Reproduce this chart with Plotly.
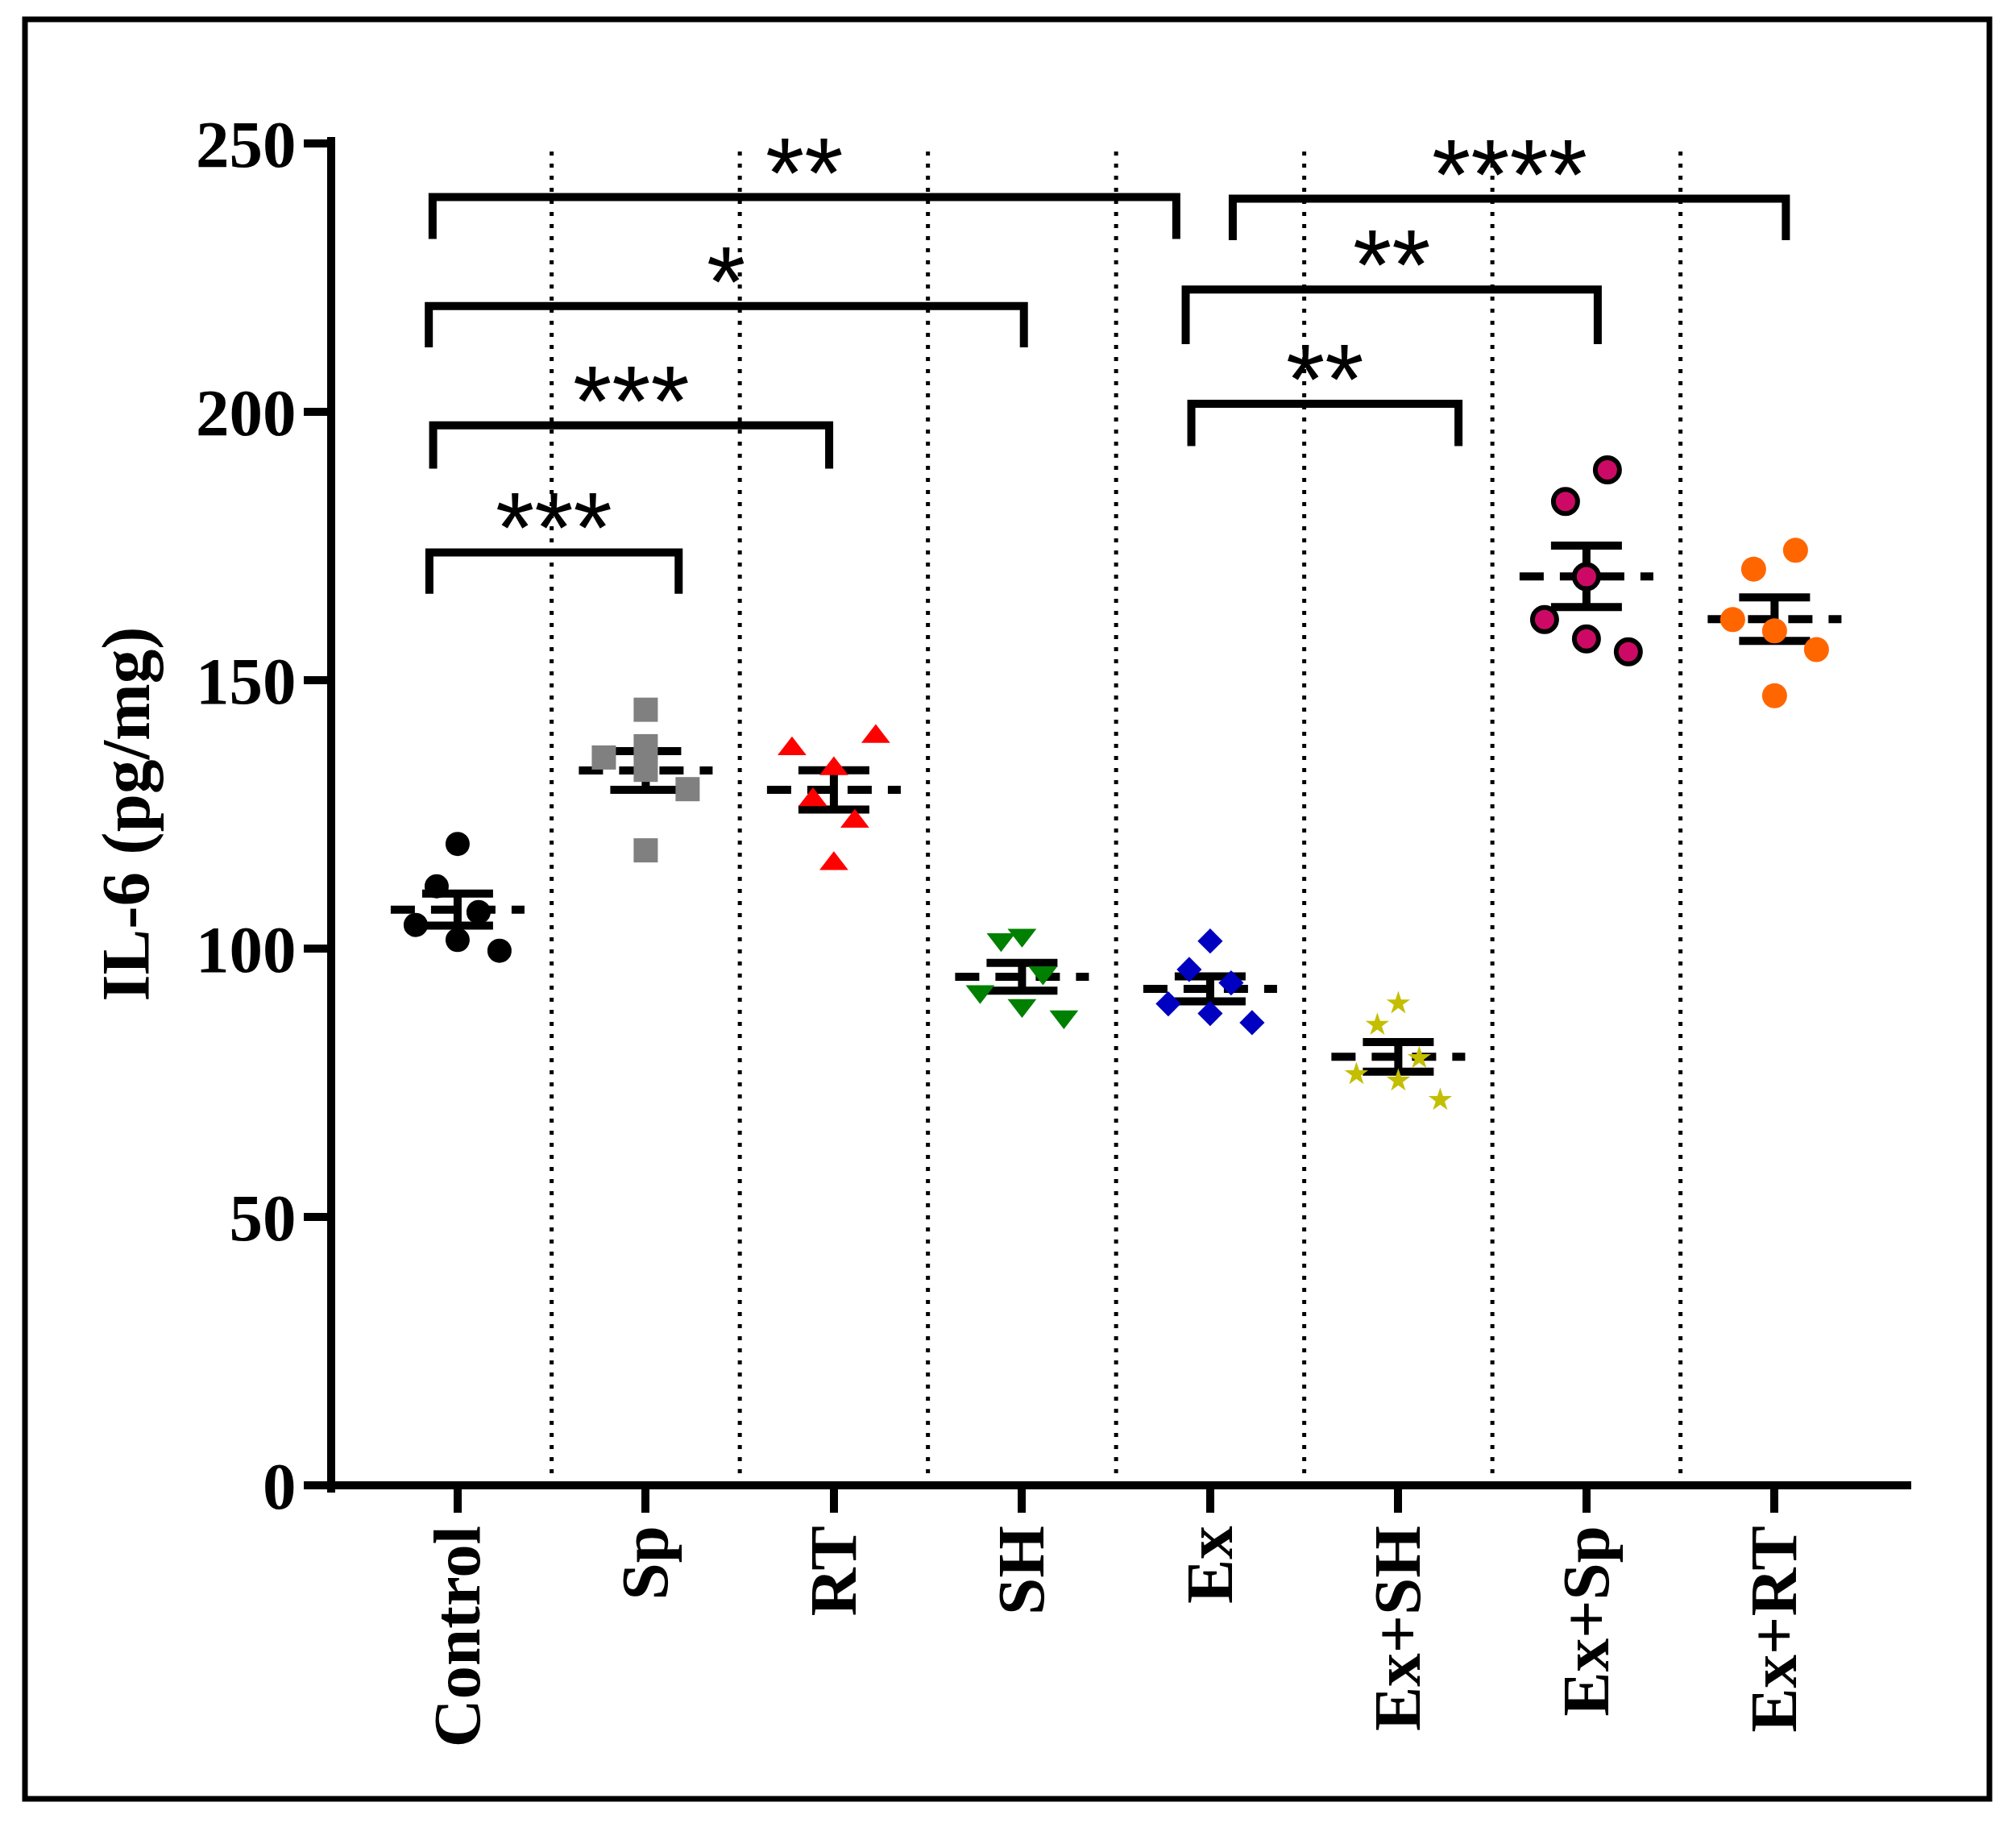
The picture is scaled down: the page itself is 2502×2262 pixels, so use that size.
import numpy as np
import plotly.graph_objects as go

# ---------------- data ----------------
groups = ["Control", "Sp", "RT", "SH", "Ex", "Ex+SH", "Ex+Sp", "Ex+RT"]

control = [119.5, 111.6, 106.8, 104.4, 101.6, 99.6]
sp      = [144.5, 137.7, 135.6, 133.3, 129.7, 118.3]
rt      = [139.5, 137.2, 133.5, 127.7, 123.7, 115.8]
sh      = [102.5, 101.7, 95.5, 92.0, 89.4, 87.3]
ex      = [101.4, 96.1, 93.6, 89.7, 87.9, 86.2]
ex_sh   = [89.8, 85.8, 79.6, 76.6, 75.4, 71.8]
ex_sp   = [189.2, 183.3, 169.3, 161.3, 157.7, 155.3]
ex_rt   = [174.2, 170.7, 161.3, 159.2, 155.7, 147.1]

series = [control, sp, rt, sh, ex, ex_sh, ex_sp, ex_rt]

# significance comparisons (label)
sig_labels = ["**", "*", "***", "***", "**", "**", "****"]

y_ticks = [0, 50, 100, 150, 200, 250]

# ---------------- layout / style ----------------
jitter_steps = [
    [0, -1, 1, -2, 0, 2],
    [0, 0, -2, 0, 2, 0],
    [2, -2, 0, -1, 1, 0],
    [0, -1, 1, -2, 0, 2],
    [0, -1, 1, -2, 0, 2],
    [0, -1, 1, -2, 0, 2],
    [1, -1, 0, -2, 0, 2],
    [1, -1, -2, 0, 2, 0],
]
JIT = 0.1113

styles = [
    dict(symbol="circle", size=30, color="#000000"),
    dict(symbol="square", size=30, color="#808080"),
    dict(symbol="triangle-up", size=31, color="#FF0000"),
    dict(symbol="triangle-down", size=31, color="#008000"),
    dict(symbol="diamond", size=24, color="#0000C0"),
    dict(symbol="star", size=22, color="#C4BE00"),
    dict(symbol="circle", size=30, color="#CC0A66", line=dict(color="#000000", width=6)),
    dict(symbol="circle", size=31, color="#FF6600"),
]

# bracket geometry: (x_left, x_right, y_top, y_leg_left, y_leg_right)
bracket_geo = [
    (-0.133, 3.82, 240.0, 232.2, 232.2),
    (-0.153, 3.01, 219.7, 212.0, 212.0),
    (-0.130, 1.975, 197.5, 189.4, 189.4),
    (-0.150, 1.175, 173.8, 166.1, 166.1),
    (3.90, 5.32, 201.5, 193.6, 193.6),
    (3.87, 6.06, 222.8, 212.6, 212.6),
    (4.12, 7.06, 239.7, 232.0, 232.0),
]

W, H = 2502, 2262
L, R, T, B = 411, 135, 178, 419
X_RANGE = [-0.672, 7.705]
SERIF = "Liberation Serif"
pw = W - L - R
ph = H - T - B

fig = go.Figure()

# mean dashed lines
for i, vals in enumerate(series):
    m = float(np.mean(vals))
    fig.add_trace(go.Scatter(
        x=[i - 0.3555, i + 0.3555], y=[m, m], mode="lines",
        line=dict(color="black", width=10, dash="30px,20px"),
        hoverinfo="skip", showlegend=False))

# SEM error bars
for i, vals in enumerate(series):
    v = np.array(vals, dtype=float)
    m = v.mean()
    sem = v.std(ddof=1) / np.sqrt(len(v))
    fig.add_trace(go.Scatter(
        x=[i], y=[m], mode="markers",
        marker=dict(size=1, color="black"),
        error_y=dict(type="data", array=[sem], symmetric=True,
                     color="black", thickness=10, width=44),
        hoverinfo="skip", showlegend=False))

# points
for i, vals in enumerate(series):
    st = styles[i]
    mk = dict(symbol=st["symbol"], size=st["size"], color=st["color"])
    mk["line"] = st.get("line", dict(width=0))
    fig.add_trace(go.Scatter(
        x=[i + s * JIT for s in jitter_steps[i]], y=vals, mode="markers",
        marker=mk, name=groups[i], showlegend=False))

# brackets
for (xl, xr, yt, yl, yr), lab in zip(bracket_geo, sig_labels):
    fig.add_trace(go.Scatter(
        x=[xl, xl, xr, xr], y=[yl, yt, yt, yr], mode="lines",
        line=dict(color="black", width=10),
        hoverinfo="skip", showlegend=False))
    fig.add_annotation(
        x=(xl + xr) / 2, y=yt, xref="x", yref="y", text=lab,
        showarrow=False, yanchor="middle", xanchor="center", yshift=30,
        font=dict(family="Liberation Sans", size=124, color="black"))

shapes = []
# dotted separators
for k in range(len(groups) - 1):
    shapes.append(dict(type="line", xref="x", yref="y", x0=k + 0.5, x1=k + 0.5,
                       y0=0, y1=250, layer="below",
                       line=dict(color="black", width=5, dash="5px,10px")))

# axis lines
shapes.append(dict(type="line", xref="paper", yref="paper", x0=0, x1=0,
                   y0=-9 / ph, y1=1 + 8 / ph, line=dict(color="black", width=10)))
shapes.append(dict(type="line", xref="paper", yref="paper", x0=-5 / pw, x1=1 + 5 / pw,
                   y0=0, y1=0, line=dict(color="black", width=10)))

# outer frame
fx0 = (31 - L) / pw
fx1 = (2469 - L) / pw
fy1 = (H - B - 24) / ph
fy0 = (H - B - 2232) / ph
shapes.append(dict(type="rect", xref="paper", yref="paper", x0=fx0, x1=fx1,
                   y0=fy0, y1=fy1, line=dict(color="black", width=7),
                   fillcolor="rgba(0,0,0,0)"))

fig.update_layout(
    width=W, height=H, autosize=False,
    margin=dict(l=L, r=R, t=T, b=B, pad=0),
    paper_bgcolor="white", plot_bgcolor="white",
    shapes=shapes, showlegend=False,
    xaxis=dict(range=X_RANGE, tickmode="array", tickvals=list(range(len(groups))),
               ticktext=groups, tickangle=-90, showgrid=False, zeroline=False,
               showline=False, ticklabelstandoff=-17,
               ticks="outside", ticklen=33, tickwidth=10, tickcolor="black",
               tickfont=dict(family=SERIF, size=83, color="black", weight="bold")),
    yaxis=dict(range=[0, 250], tickmode="array", tickvals=y_ticks,
               showgrid=False, zeroline=False,
               showline=False, ticklabelstandoff=-7,
               ticks="outside", ticklen=33, tickwidth=10, tickcolor="black",
               tickfont=dict(family=SERIF, size=83, color="black", weight="bold")),
)

fig.add_annotation(
    x=(156 - L) / pw, y=0.5, xref="paper", yref="paper", text="IL-6 (pg/mg)",
    textangle=-90, showarrow=False, xanchor="center", yanchor="middle",
    font=dict(family=SERIF, size=85, color="black", weight="bold"))

fig.write_html("out.html", config={"displayModeBar": False},
               post_script="document.body.style.margin='0';document.body.style.overflow='hidden';")
